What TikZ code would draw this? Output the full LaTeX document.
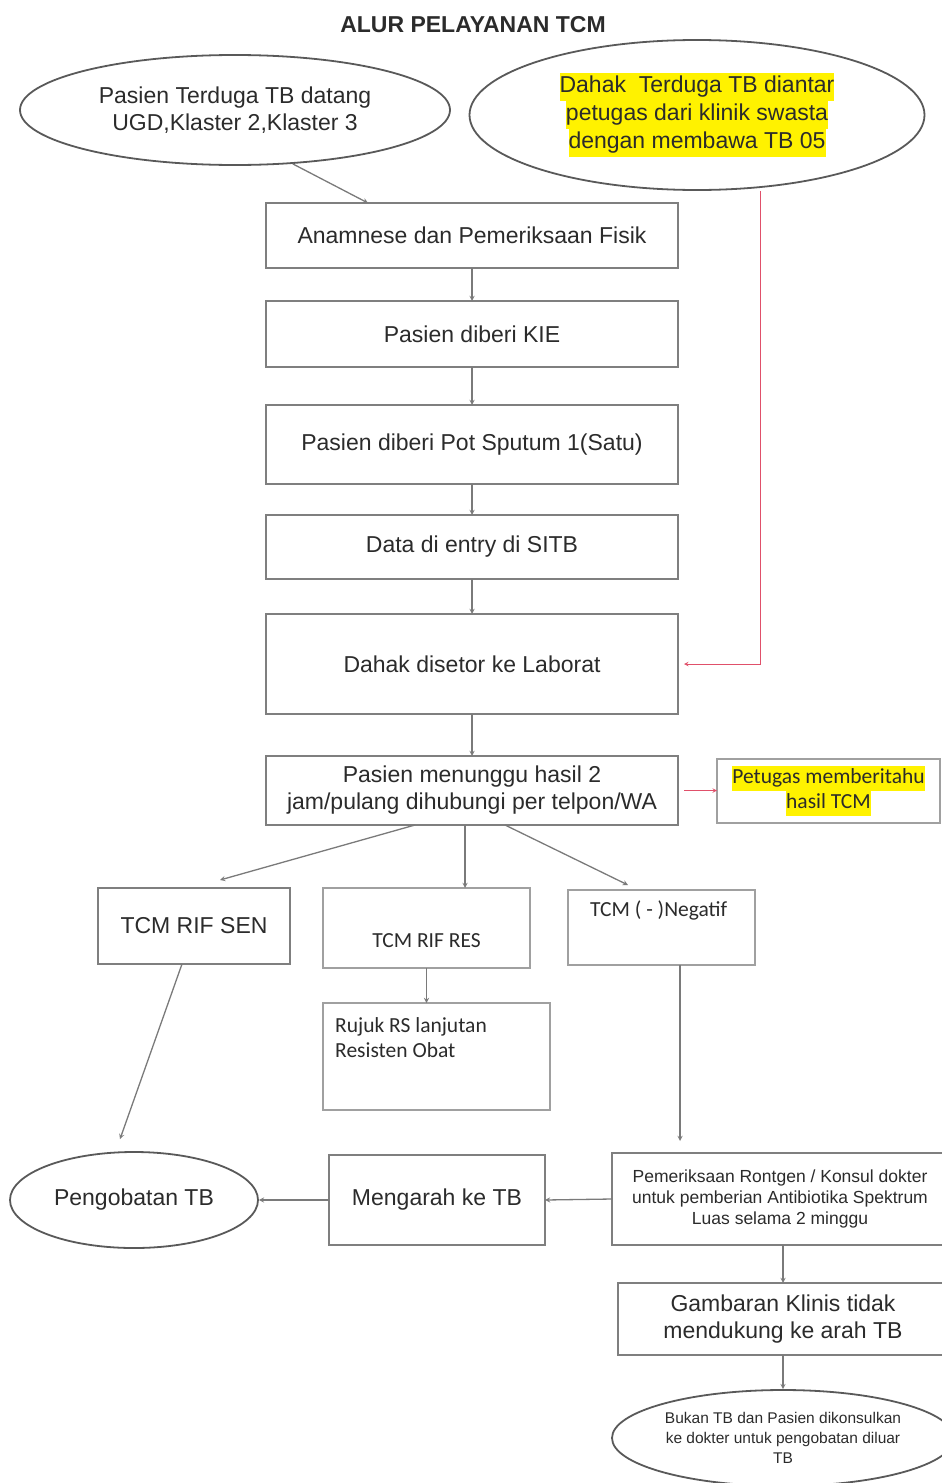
\documentclass[tikz,border=0pt]{standalone}
\usepackage{fontspec}
\setmainfont{Liberation Sans}
\newfontfamily\calfont{Carlito}
\usepackage{tikz}
\usetikzlibrary{shapes.geometric, arrows}
\usetikzlibrary{positioning}
\definecolor{boxgray}{HTML}{7F7F7F}
\definecolor{lightgray}{HTML}{A0A0A0}
\definecolor{ellgray}{HTML}{595959}
\definecolor{linegray}{HTML}{7A7A7A}
\definecolor{redline}{HTML}{E0506A}
\definecolor{txtgray}{HTML}{2B2B2B}
\newcommand{\mainsize}{\fontsize{23}{27}\selectfont}
\newcommand{\calsize}{\calfont\fontsize{21.5}{25}\selectfont}
\newcommand{\hlyellow}[1]{{\setlength{\fboxsep}{0pt}\colorbox{yellow}{\strut #1}}}

\begin{document}
\begin{tikzpicture}[x=1pt, y=-1pt, >=stealth,
        every node/.style={text=txtgray, font=\mainsize, align=center},
        flowbox/.style={draw=boxgray, line width=2pt, inner sep=0pt, outer sep=0pt},
        smallbox/.style={flowbox, draw=lightgray, font=\calsize},
        flowoval/.style={ellipse, draw=ellgray, line width=1.8pt, inner sep=0pt},
        arrowline/.style={->, draw=linegray, line width=1.3pt},
        redarrow/.style={->, draw=redline, line width=1pt},
      ]
      \useasboundingbox (0,0) rectangle (942,1483);

      \node[font=\mainsize\bfseries] (judul) at (473,25) {ALUR PELAYANAN TCM};

      \node[flowoval, minimum width=430pt, minimum height=110pt] (datang) at (235,110)
        {Pasien Terduga TB datang\\UGD,Klaster 2,Klaster 3};
      \node[flowoval, minimum width=455pt, minimum height=150pt, font=\fontsize{23}{28}\selectfont] (antar) at (697,115)
        {\hlyellow{Dahak~ Terduga TB diantar}\\\hlyellow{petugas dari klinik swasta}\\\hlyellow{dengan membawa TB 05}};

      % alur utama
      \node[flowbox, minimum width=412pt, minimum height=65pt] (anamnese) at (472,235.5) {Anamnese dan Pemeriksaan Fisik};
      \node[flowbox, minimum width=412pt, minimum height=66pt, below=33pt of anamnese] (kie) {Pasien diberi KIE};
      \node[flowbox, minimum width=412pt, minimum height=79pt, below=38pt of kie] (sputum) {Pasien diberi Pot Sputum 1(Satu)};
      \node[flowbox, minimum width=412pt, minimum height=64pt, below=31pt of sputum] (sitb) {Data di entry di SITB};
      \node[flowbox, minimum width=412pt, minimum height=100pt, below=35pt of sitb] (laborat) {Dahak disetor ke Laborat};
      \node[flowbox, minimum width=412pt, minimum height=69pt, below=42pt of laborat] (tunggu) {Pasien menunggu hasil 2\\jam/pulang dihubungi per telpon/WA};
      \node[smallbox, minimum width=223pt, minimum height=64pt, right=39pt of tunggu] (petugas)
        {\hlyellow{Petugas memberitahu}\\\hlyellow{hasil TCM}};

      % hasil TCM
      \node[flowbox, minimum width=192pt, minimum height=76pt] (sen) at (194,926) {TCM RIF SEN};
      \node[smallbox, minimum width=207pt, minimum height=80pt, text height=38pt, text depth=0pt] (res) at (426.5,928) {TCM RIF RES};
      \node[smallbox, minimum width=187pt, minimum height=75pt,
        label={[font=\calsize, anchor=north west, inner sep=0pt, xshift=22pt, yshift=-11pt]north west:TCM ( - )Negatif}] (negatif) at (661.5,927.5) {};
      \node[smallbox, minimum width=227pt, minimum height=107pt,
        label={[font=\calsize, anchor=north west, align=left, inner sep=0pt, xshift=12pt, yshift=-14pt]north west:{Rujuk RS lanjutan\\Resisten Obat}}] (rujuk) at (436.5,1056.5) {};

      \node[flowoval, minimum width=248pt, minimum height=96pt] (obat) at (134,1200) {Pengobatan TB};
      \node[flowbox, minimum width=216pt, minimum height=90pt] (arah) at (437,1200) {Mengarah ke TB};
      \node[flowbox, minimum width=336pt, minimum height=92pt, font=\fontsize{17.5}{21}\selectfont] (rontgen) at (780,1199)
        {Pemeriksaan Rontgen / Konsul dokter\\untuk pemberian Antibiotika Spektrum\\Luas selama 2 minggu};
      \node[flowbox, minimum width=330pt, minimum height=72pt] (klinis) at (783,1319) {Gambaran Klinis tidak\\mendukung ke arah TB};
      \node[flowoval, minimum width=342pt, minimum height=96pt, font=\fontsize{15.5}{20}\selectfont] (bukan) at (783,1438)
        {Bukan TB dan Pasien dikonsulkan\\ke dokter untuk pengobatan diluar\\TB};

      \draw[arrowline] (datang.-43) -- ([xshift=-104pt]anamnese.north);
      \draw[arrowline] (anamnese.south) -- (kie.north);
      \draw[arrowline] (kie.south) -- (sputum.north);
      \draw[arrowline] (sputum.south) -- (sitb.north);
      \draw[arrowline] (sitb.south) -- (laborat.north);
      \draw[arrowline] (laborat.south) -- (tunggu.north);
      \draw[redarrow, shorten >=6pt] ([xshift=63pt]antar.south) |- (laborat.east);
      \draw[redarrow] ([xshift=6pt]tunggu.east) -- (petugas.west);

      \draw[arrowline] ([xshift=-57pt]tunggu.south) -- ([xshift=26pt,yshift=8pt]sen.north);
      \draw[arrowline] ([xshift=-7pt]tunggu.south) -- ([xshift=38.5pt]res.north);
      \draw[arrowline] ([xshift=33pt]tunggu.south) -- ([xshift=-33.5pt,yshift=5pt]negatif.north);
      \draw[arrowline] (res.south) -- (rujuk.north -| res.south);
      \draw[arrowline] ([xshift=-12pt]sen.south) -- ([xshift=-14pt,yshift=12pt]obat.north);
      \draw[arrowline] ([xshift=18.5pt]negatif.south) -- ([xshift=-100pt,yshift=12pt]rontgen.north);

      \draw[arrowline] (arah.west) -- (obat.east);
      \draw[arrowline] (rontgen.west) -- (arah.east);
      \draw[arrowline] (klinis.north |- rontgen.south) -- (klinis.north);
      \draw[arrowline] (klinis.south) -- (bukan.north);
    \end{tikzpicture}
\end{document}
